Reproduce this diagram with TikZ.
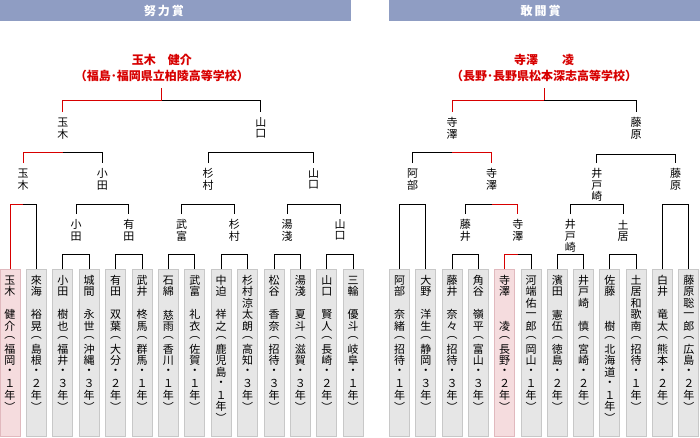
\documentclass[tikz,border=0pt]{standalone}
\usepackage{fontspec}
\setmainfont{Noto Sans CJK JP}
\usetikzlibrary{calc}
\definecolor{hdrblue}{RGB}{143,157,195}
\definecolor{winred}{RGB}{215,0,0}
\definecolor{boxgray}{RGB}{230,230,230}
\definecolor{boxline}{RGB}{200,200,200}
\definecolor{boxpink}{RGB}{245,220,222}
\definecolor{pinkline}{RGB}{225,185,190}

% vertical (tategaki) text: one character per slot
\newcommand\vtpitch{11.5pt}
\def\vtend{\vtend}
\newcommand\vtgap{}
\newcommand\vt[1]{\vbox{\offinterlineskip\vtloop#1\vtend}}
\def\vtloop#1{\ifx#1\vtend\else\vtslot{#1}\expandafter\vtloop\fi}
\newcommand\vtslot[1]{\hbox to 12pt{\hss\vbox to \vtpitch{\vss\hbox{#1}\vss}\hss}}
\newcommand\leaftext[1]{\vbox to 167pt{\vskip5pt\vt{#1}\vss}}
% bracket: child A, parent P, child B, height y, style of A half, style of B half
\newcommand\pairline[6]{%
  \draw[#5] (#1.north) |- (#2.north |- 0,#4);
  \draw[#6] (#2.north |- 0,#4) -| (#3.north);}

\begin{document}
\begin{tikzpicture}[x=1pt,y=-1pt,
  font=\fontsize{11pt}{12pt}\selectfont,
  leafbox/.style={draw=boxline,fill=boxgray,line width=1pt,minimum width=20pt,inner sep=0pt,anchor=north},
  winbox/.style={leafbox,draw=pinkline,fill=boxpink},
  bname/.style={inner sep=0pt,outer ysep=5pt,anchor=north},
  bline/.style={line width=1pt,black},
  winline/.style={line width=1pt,winred},
  wintext/.style={align=center,text=winred,inner sep=0pt,font=\bfseries\fontsize{12pt}{16pt}\selectfont},
  hdrtext/.style={text=white,inner sep=0pt,font=\bfseries\fontsize{12pt}{12pt}\selectfont}]
  \useasboundingbox (0,0) rectangle (700,437);

  % headers
  \fill[hdrblue] (0,0) rectangle (351,21);
  \fill[hdrblue] (389,0) rectangle (700,21);
  \node[hdrtext] (dhead) at (164,10.5) {努\,力\,賞};
  \node[hdrtext] (khead) at (540.5,10.5) {敢\,闘\,賞};

  % winners
  \node[wintext] (dwin) at (161.8,68) {玉木\hspace{1em}健介\\（福島･福岡県立柏陵高等学校）};
  \node[wintext] (kwin) at (544.15,68) {寺澤\hspace{2em}凌\\（長野･長野県松本深志高等学校）};

  % left players
  \node[winbox]  (d1)  at (10,269)    {\leaftext{玉木\vtgap 健介︵福岡・１年︶}};
  \node[leafbox] (d2)  at (36.4,269)  {\leaftext{來海\vtgap 裕晃︵島根・２年︶}};
  \node[leafbox] (d3)  at (62.8,269)  {\leaftext{小田\vtgap 樹也︵福井・３年︶}};
  \node[leafbox] (d4)  at (89.2,269)  {\leaftext{城間\vtgap 永世︵沖縄・３年︶}};
  \node[leafbox] (d5)  at (115.6,269) {\leaftext{有田\vtgap 双葉︵大分・２年︶}};
  \node[leafbox] (d6)  at (142,269)   {\leaftext{武井\vtgap 柊馬︵群馬・１年︶}};
  \node[leafbox] (d7)  at (168.4,269) {\leaftext{石綿\vtgap 慈雨︵香川・１年︶}};
  \node[leafbox] (d8)  at (194.8,269) {\leaftext{武富\vtgap 礼衣︵佐賀・１年︶}};
  \node[leafbox] (d9)  at (221.2,269) {\leaftext{中迫\vtgap 祥之︵鹿児島・１年︶}};
  \node[leafbox] (d10) at (247.6,269) {\leaftext{杉村涼太朗︵高知・３年︶}};
  \node[leafbox] (d11) at (274,269)   {\leaftext{松谷\vtgap 香奈︵招待・３年︶}};
  \node[leafbox] (d12) at (300.4,269) {\leaftext{湯淺\vtgap 夏斗︵滋賀・３年︶}};
  \node[leafbox] (d13) at (326.8,269) {\leaftext{山口\vtgap 賢人︵長崎・２年︶}};
  \node[leafbox] (d14) at (353.2,269) {\leaftext{三輪\vtgap 優斗︵岐阜・１年︶}};

  % left rounds
  \node[bname] (d3a) at (76,214)    {\vt{小田}};
  \node[bname] (d3b) at (128.8,214) {\vt{有田}};
  \node[bname] (d3c) at (181.6,214) {\vt{武富}};
  \node[bname] (d3d) at (234.4,214) {\vt{杉村}};
  \node[bname] (d3e) at (287.2,214) {\vt{湯淺}};
  \node[bname] (d3f) at (340,214)   {\vt{山口}};
  \node[bname] (d2a) at (23.2,163)  {\vt{玉木}};
  \node[bname] (d2b) at (102.4,163) {\vt{小田}};
  \node[bname] (d2c) at (208,163)   {\vt{杉村}};
  \node[bname] (d2d) at (313.6,163) {\vt{山口}};
  \node[bname] (d1a) at (62.8,112)  {\vt{玉木}};
  \node[bname] (d1b) at (260.8,112) {\vt{山口}};

  \pairline{d3}{d3a}{d4}{254}{bline}{bline}
  \pairline{d5}{d3b}{d6}{254}{bline}{bline}
  \pairline{d7}{d3c}{d8}{254}{bline}{bline}
  \pairline{d9}{d3d}{d10}{254}{bline}{bline}
  \pairline{d11}{d3e}{d12}{254}{bline}{bline}
  \pairline{d13}{d3f}{d14}{254}{bline}{bline}
  \pairline{d1}{d2a}{d2}{204}{winline}{bline}
  \pairline{d3a}{d2b}{d3b}{204}{bline}{bline}
  \pairline{d3c}{d2c}{d3d}{204}{bline}{bline}
  \pairline{d3e}{d2d}{d3f}{204}{bline}{bline}
  \pairline{d2a}{d1a}{d2b}{152}{winline}{bline}
  \pairline{d2c}{d1b}{d2d}{152}{bline}{bline}
  \pairline{d1a}{dwin}{d1b}{100}{winline}{bline}
  \draw[winline] (dwin.south |- 0,88) -- (dwin.south |- 0,100);

  % right players
  \node[leafbox] (k1)  at (399.5,269) {\leaftext{阿部\vtgap 奈緒︵招待・１年︶}};
  \node[leafbox] (k2)  at (425.8,269) {\leaftext{大野\vtgap 洋生︵静岡・３年︶}};
  \node[leafbox] (k3)  at (452.1,269) {\leaftext{藤井\vtgap 奈々︵招待・３年︶}};
  \node[leafbox] (k4)  at (478.4,269) {\leaftext{角谷\vtgap 嶺平︵富山・３年︶}};
  \node[winbox]  (k5)  at (504.7,269) {\leaftext{寺澤\vtgap\vtgap 凌︵長野・２年︶}};
  \node[leafbox] (k6)  at (531,269)   {\leaftext{河端佑一郎︵岡山・１年︶}};
  \node[leafbox] (k7)  at (557.3,269) {\leaftext{濱田\vtgap 憲伍︵徳島・２年︶}};
  \node[leafbox] (k8)  at (583.6,269) {\leaftext{井戸崎\vtgap 慎︵宮崎・２年︶}};
  \node[leafbox] (k9)  at (609.9,269) {\leaftext{佐藤\vtgap\vtgap 樹︵北海道・１年︶}};
  \node[leafbox] (k10) at (636.2,269) {\leaftext{土居和歌南︵招待・１年︶}};
  \node[leafbox] (k11) at (662.5,269) {\leaftext{白井\vtgap 竜太︵熊本・２年︶}};
  \node[leafbox] (k12) at (688.8,269) {\leaftext{藤原聡一郎︵広島・２年︶}};

  % right rounds
  \node[bname] (k3a) at (465.25,214) {\vt{藤井}};
  \node[bname] (k3b) at (517.85,214) {\vt{寺澤}};
  \node[bname] (k3c) at (570.45,214) {\vt{井戸崎}};
  \node[bname] (k3d) at (623.05,214) {\vt{土居}};
  \node[bname] (k2a) at (412.65,163) {\vt{阿部}};
  \node[bname] (k2b) at (491.55,163) {\vt{寺澤}};
  \node[bname] (k2c) at (596.75,163) {\vt{井戸崎}};
  \node[bname] (k2d) at (675.65,163) {\vt{藤原}};
  \node[bname] (k1a) at (452.1,112)  {\vt{寺澤}};
  \node[bname] (k1b) at (636.2,112)  {\vt{藤原}};

  \pairline{k3}{k3a}{k4}{254}{bline}{bline}
  \pairline{k5}{k3b}{k6}{254}{winline}{bline}
  \pairline{k7}{k3c}{k8}{254}{bline}{bline}
  \pairline{k9}{k3d}{k10}{254}{bline}{bline}
  \pairline{k1}{k2a}{k2}{204}{bline}{bline}
  \pairline{k3a}{k2b}{k3b}{204}{bline}{winline}
  \pairline{k3c}{k2c}{k3d}{204}{bline}{bline}
  \pairline{k11}{k2d}{k12}{204}{bline}{bline}
  \pairline{k2a}{k1a}{k2b}{152}{bline}{winline}
  \pairline{k2c}{k1b}{k2d}{154}{bline}{bline}
  \pairline{k1a}{kwin}{k1b}{100}{winline}{bline}
  \draw[winline] (kwin.south |- 0,88) -- (kwin.south |- 0,100);
\end{tikzpicture}
\end{document}
